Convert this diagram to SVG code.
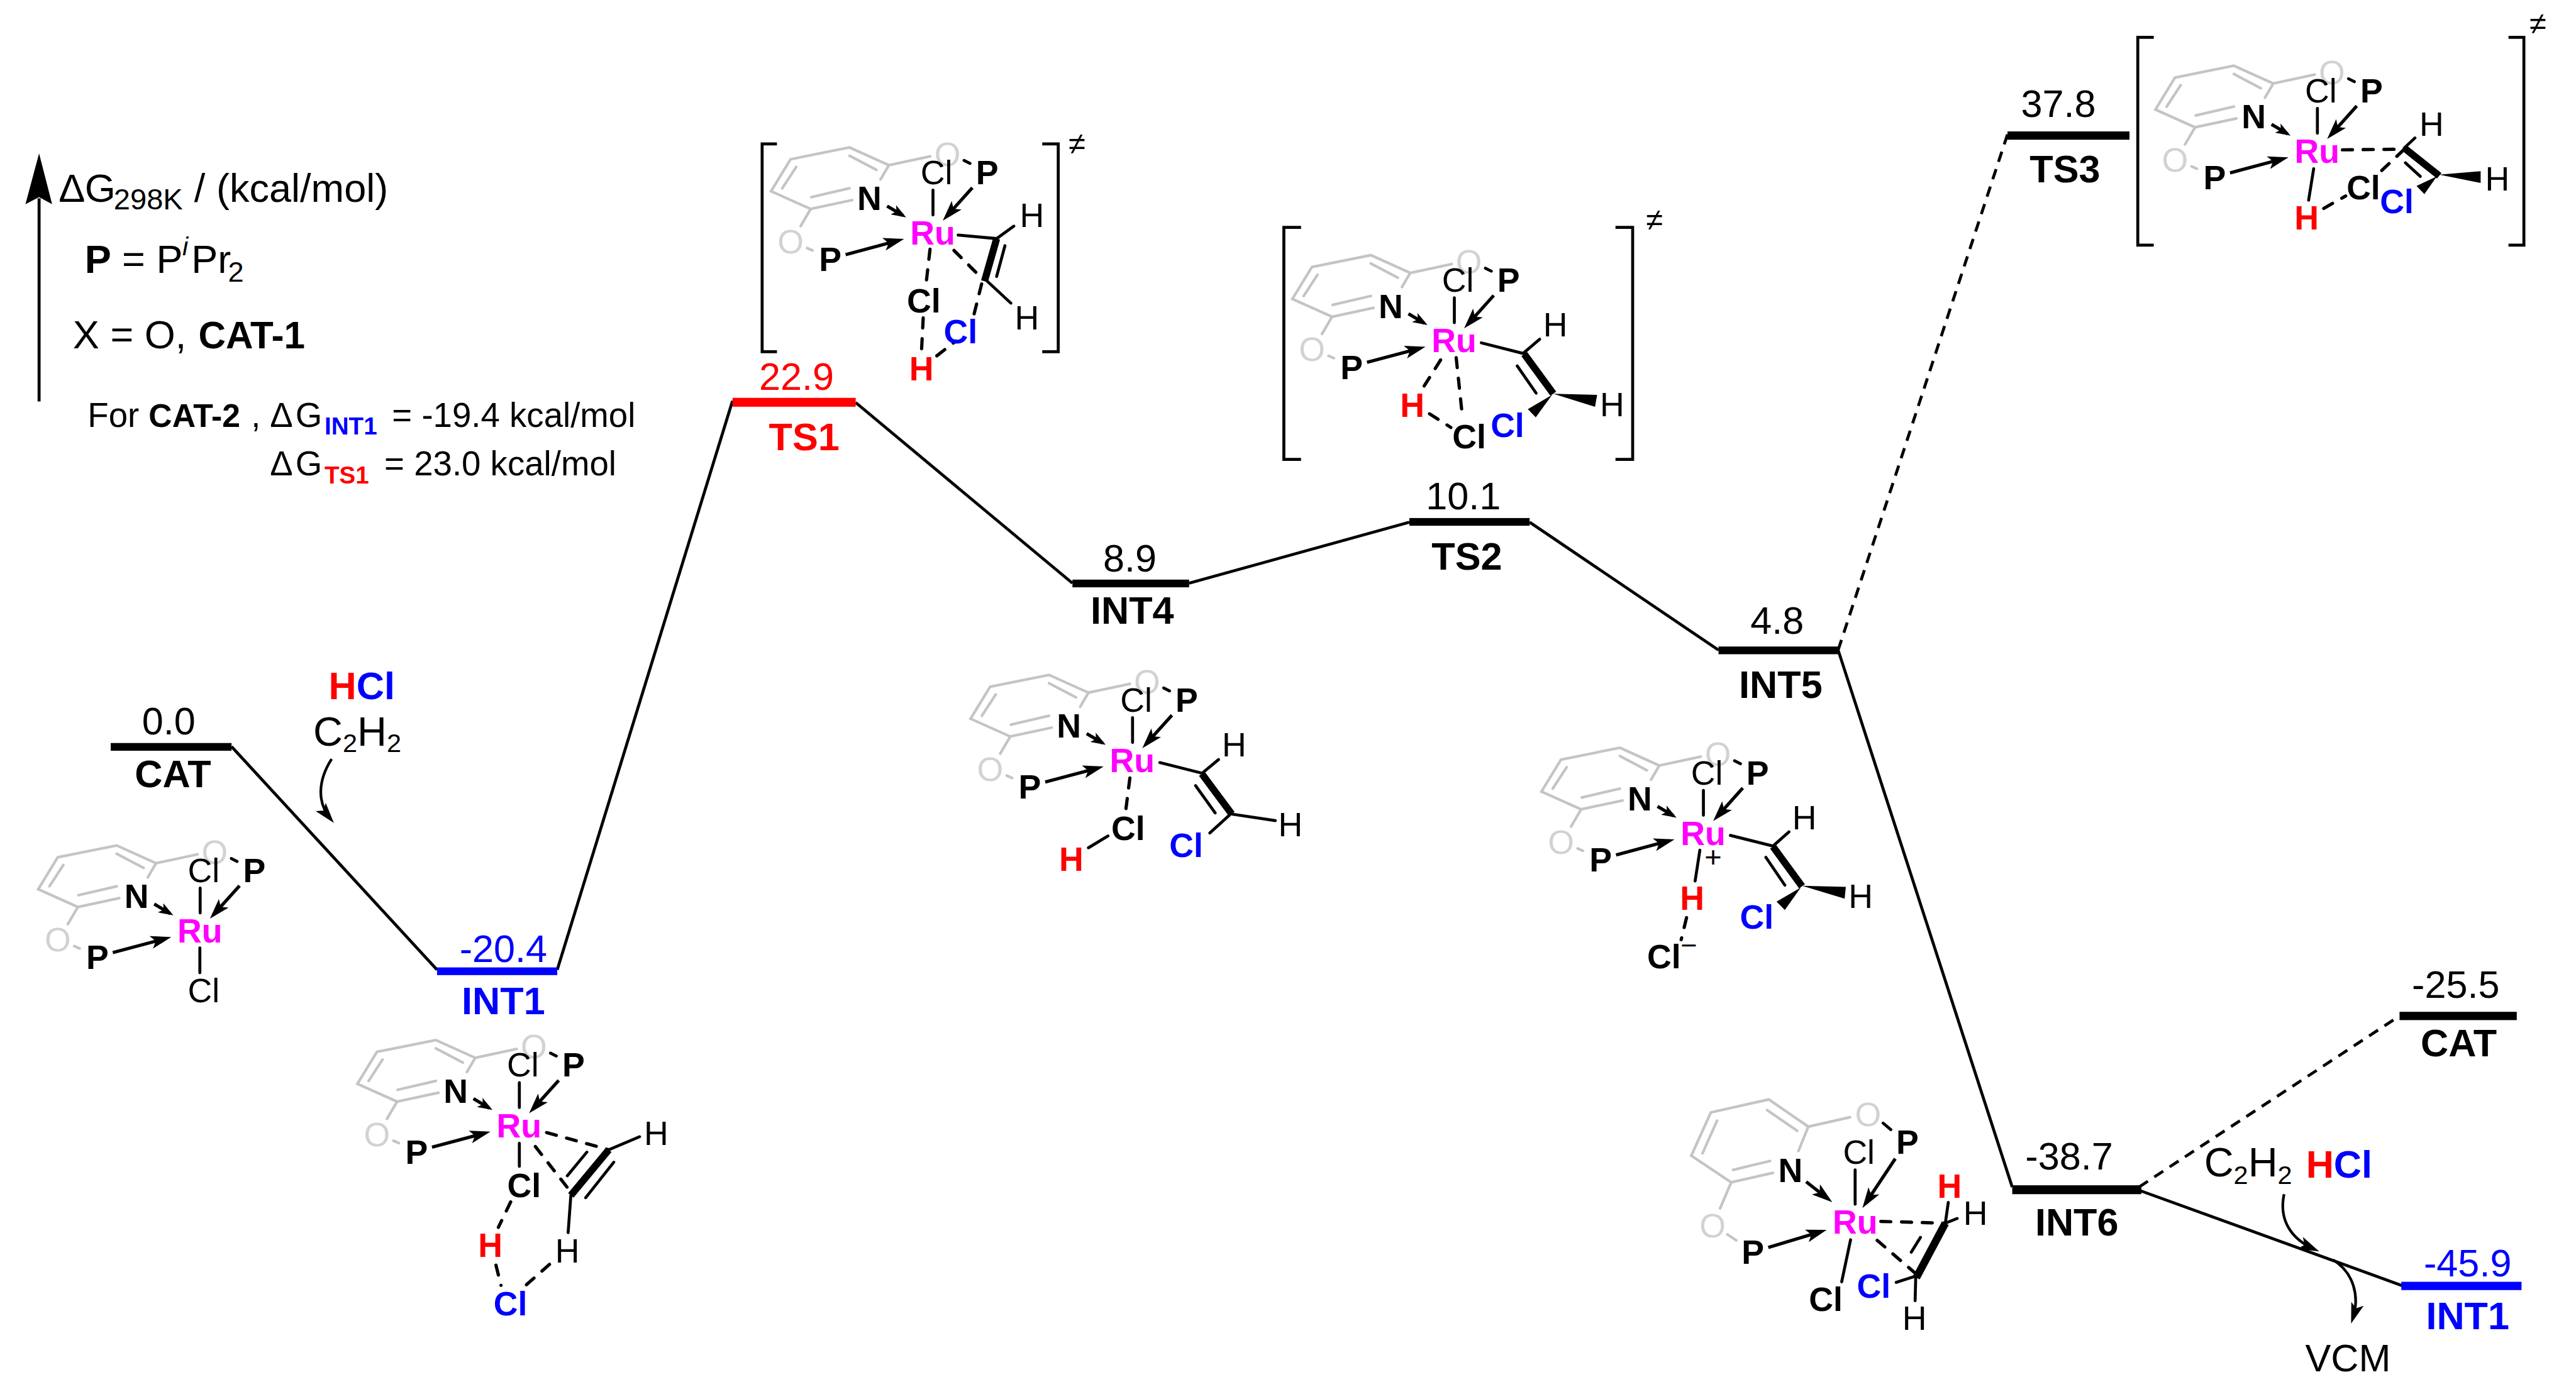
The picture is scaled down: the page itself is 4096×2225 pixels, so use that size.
<svg xmlns="http://www.w3.org/2000/svg" width="4096" height="2225" viewBox="0 0 4096 2225">
<style>
text{font-family:"Liberation Sans",Arial,sans-serif;fill:#000}
.a{font-size:57px;text-anchor:middle}
.b{font-weight:bold}
.o{fill:#d2d2d2}
.ru{fill:#f0f;font-weight:bold}
.red{fill:#f00}
.blue{fill:#00f}
.v{font-size:65px;text-anchor:middle}
.l{font-size:65px;font-weight:bold;text-anchor:middle}
.h{font-size:67px}
.s{font-size:58px}
.gr{fill:none;stroke:#c4c4c4;stroke-width:4.5;stroke-linecap:round;stroke-linejoin:miter}
.k{fill:none;stroke:#000;stroke-width:5;stroke-linecap:round}
.bd{fill:none;stroke:#000;stroke-width:12;stroke-linecap:butt}
.d{fill:none;stroke:#000;stroke-width:5.5;stroke-linecap:round;stroke-dasharray:17 18}
.c{fill:none;stroke:#000;stroke-width:5}
.cd{fill:none;stroke:#000;stroke-width:5;stroke-dasharray:18 13}
.br{fill:none;stroke:#000;stroke-width:5}
.ar{fill:none;stroke:#000;stroke-width:5.5;marker-end:url(#ah)}
.ar2{fill:none;stroke:#000;stroke-width:5.5;marker-end:url(#ah2)}
.cv{fill:none;stroke:#000;stroke-width:4.5;marker-end:url(#ah)}
</style>
<defs>
<marker id="ah" markerUnits="userSpaceOnUse" markerWidth="36" markerHeight="26" viewBox="0 0 36 26" refX="26" refY="13" orient="auto"><path d="M35 13 L0 2 L8 13 L0 24Z" fill="#000"/></marker>
<marker id="ah2" markerUnits="userSpaceOnUse" markerWidth="26" markerHeight="22" viewBox="0 0 26 22" refX="19" refY="11" orient="auto"><path d="M25 11 L0 2 L6 11 L0 20Z" fill="#000"/></marker>
<g id="pyr">
<path class="gr" d="M1487 303L1501 279L1434.5 249L1335 269L1302 323L1369 353L1439 338"/>
<path class="gr" d="M1434.5 263L1480 287M1344.5 282L1321 318M1370 333L1434.5 318M1501 279L1571 264M1369 353L1352 382M1363 419L1372 423"/>
</g>
<g id="lig">
<path class="k" d="M1628 271L1638 276M1575.5 321V363"/>
<path class="ar" d="M1428 430L1518 406"/>
<path class="ar" d="M1642 317L1598 366"/>
<path class="ar2" d="M1498 348L1525 364"/>
</g>
</defs>
<rect width="4096" height="2225" fill="#fff"/>
<g transform="scale(0.94161)">

<g id="legend">
<path class="c" d="M66 335V678"/>
<polygon points="66,259 88,345 66,333 43,345"/>
<text class="h" x="99" y="341">Δ<tspan x="143">G</tspan><tspan x="192" y="354" font-size="50">298K</tspan><tspan x="328" y="341">/ (kcal/mol)</tspan></text>
<text class="h" x="143" y="461"><tspan class="b">P</tspan><tspan x="206">=</tspan><tspan x="264">P</tspan><tspan x="308" y="431" font-size="44" font-style="italic">i</tspan><tspan x="323" y="461">Pr</tspan><tspan x="385" y="476" font-size="48">2</tspan></text>
<text class="h" x="123" y="588">X = O,<tspan class="b" x="335" font-size="64">CAT-1</tspan></text>
<text class="s" x="148" y="721">For<tspan class="b" x="251" font-size="55">CAT-2</tspan><tspan x="424">,</tspan><tspan x="456">Δ</tspan><tspan x="499">G</tspan><tspan class="b blue" x="548" y="734" font-size="41">INT1</tspan><tspan x="662" y="721">= -19.4 kcal/mol</tspan></text>
<text class="s" x="456" y="803">Δ<tspan x="499">G</tspan><tspan class="b red" x="548" y="817" font-size="41">TS1</tspan><tspan x="649" y="803">= 23.0 kcal/mol</tspan></text>
</g>

<g id="connectors">
<path class="c" d="M391 1261L738 1638"/>
<path class="c" d="M941 1638L1237 677"/>
<path class="c" d="M1445 680L1811 985"/>
<path class="c" d="M2008 985L2380 882"/>
<path class="c" d="M2583 882L2902 1098"/>
<path class="cd" d="M3104 1098L3390 227"/>
<path class="c" d="M3104 1098L3398 2005"/>
<path class="cd" d="M3612 2005L4052 1716"/>
<path class="c" d="M3611 2010L4058 2172"/>
<path class="cv" d="M560 1282C537 1318 535 1355 558 1383"/>
<path class="cv" d="M3857 2017C3848 2060 3868 2092 3908 2110"/>
<path class="cv" d="M3940 2128C3975 2150 3985 2190 3973 2227"/>
</g>

<g id="level-cat"><rect x="187" y="1255" width="204" height="13"/><text class="v" x="285" y="1240">0.0</text><text class="l" x="292" y="1330">CAT</text></g>
<g id="level-int1"><rect x="738" y="1634" width="203" height="13" fill="#00f"/><text class="v blue" x="850" y="1625">-20.4</text><text class="l blue" x="850" y="1713">INT1</text></g>
<g id="level-ts1"><rect x="1237" y="672" width="208" height="15" fill="#f00"/><text class="v red" x="1345" y="658">22.9</text><text class="l red" x="1358" y="760">TS1</text></g>
<g id="level-int4"><rect x="1811" y="979" width="197" height="13"/><text class="v" x="1908" y="965">8.9</text><text class="l" x="1912" y="1054">INT4</text></g>
<g id="level-ts2"><rect x="2380" y="875" width="203" height="13"/><text class="v" x="2471" y="860">10.1</text><text class="l" x="2477" y="962">TS2</text></g>
<g id="level-int5"><rect x="2902" y="1092" width="202" height="13"/><text class="v" x="3001" y="1071">4.8</text><text class="l" x="3007" y="1179">INT5</text></g>
<g id="level-ts3"><rect x="3390" y="222" width="206" height="14"/><text class="v" x="3476" y="198">37.8</text><text class="l" x="3487" y="308">TS3</text></g>
<g id="level-int6"><rect x="3398" y="2002" width="218" height="15"/><text class="v" x="3494" y="1975">-38.7</text><text class="l" x="3507" y="2087">INT6</text></g>
<g id="level-cat2"><rect x="4052" y="1709" width="198" height="14"/><text class="v" x="4147" y="1685">-25.5</text><text class="l" x="4152" y="1784">CAT</text></g>
<g id="level-int1b"><rect x="4055" y="2165" width="203" height="14" fill="#00f"/><text class="v blue" x="4167" y="2156">-45.9</text><text class="l blue" x="4167" y="2245">INT1</text></g>

<g id="reagents-1"><text x="555" y="1181" font-size="65" font-weight="bold"><tspan class="red">H</tspan><tspan class="blue">Cl</tspan></text>
<text x="529" y="1260" font-size="69">C<tspan y="1270" font-size="44">2</tspan><tspan y="1260">H</tspan><tspan y="1270" font-size="44">2</tspan></text></g>
<g id="reagents-2"><text x="3722" y="1987" font-size="69">C<tspan y="2000" font-size="44">2</tspan><tspan y="1987">H</tspan><tspan y="2000" font-size="44">2</tspan></text>
<text x="3894" y="1989" font-size="65" font-weight="bold"><tspan class="red">H</tspan><tspan class="blue">Cl</tspan></text></g>
<g id="product-vcm"><text class="v" x="3965" y="2316">VCM</text></g>

<!-- CAT -->
<g id="mol-cat">
<g transform="translate(-1237.5 1179)"><use href="#pyr"/><text class="a o" x="1600" y="280">O</text><text class="a o" x="1335" y="428">O</text><use href="#lig"/><text class="a" x="1581.5" y="311">Cl</text><text class="a b" x="1667" y="311">P</text><text class="a b" x="1468" y="355">N</text><text class="a ru" x="1575" y="413">Ru</text><text class="a b" x="1402" y="458">P</text></g>
<path class="k" d="M337.5 1601V1643"/>
<text class="a" x="344" y="1693">Cl</text>
</g>

<!-- INT1 -->
<g id="mol-int1">
<g transform="translate(-698.5 1507.7)"><use href="#pyr"/><text class="a o" x="1600" y="280">O</text><text class="a o" x="1335" y="428">O</text><use href="#lig"/><text class="a" x="1581.5" y="311">Cl</text><text class="a b" x="1667" y="311">P</text><text class="a b" x="1468" y="355">N</text><text class="a ru" x="1575" y="413">Ru</text><text class="a b" x="1402" y="458">P</text></g>
<path class="k" d="M877 1931V1970M964 2019L959.4 2082M1028 1942L1080 1920M991 1946L958 1986M1036.5 1963L989 2023"/>
<path class="bd" d="M1028 1942L964 2019"/>
<path class="d" d="M923 1913L1028 1942M904 1936.5L966 2016M862.4 2030L841.6 2073M837.5 2137L846 2171M889 2170L929 2134.6"/>
<text class="a b" x="885" y="2022">Cl</text>
<text class="a b red" x="828" y="2123">H</text>
<text class="a b blue" x="862" y="2222">Cl</text>
<text class="a" x="958" y="2132">H</text>
<text class="a" x="1108" y="1934">H</text>
</g>

<!-- TS1 -->
<g id="mol-ts1">
<g><use href="#pyr"/><text class="a o" x="1600" y="280">O</text><text class="a o" x="1335" y="428">O</text><use href="#lig"/><text class="a" x="1581.5" y="311">Cl</text><text class="a b" x="1667" y="311">P</text><text class="a b" x="1468" y="355">N</text><text class="a ru" x="1575" y="413">Ru</text><text class="a b" x="1402" y="458">P</text></g>
<path class="k" d="M1618 397L1683 403L1712 382M1697 415L1683 467M1665 473L1707 512"/>
<path class="bd" d="M1683 403L1662.5 475"/>
<path class="d" d="M1570.5 421L1564 478M1611 423L1660 472M1559 537L1556 595M1582 601L1614 576M1645 530L1660 470"/>
<text class="a b" x="1560" y="528">Cl</text>
<text class="a b red" x="1556" y="643">H</text>
<text class="a b blue" x="1622" y="580">Cl</text>
<text class="a" x="1742.5" y="383">H</text>
<text class="a" x="1734" y="557">H</text>
<path class="br" d="M1312 243H1287V594H1312M1760 243H1787V594H1760"/>
<text x="1819" y="260" font-size="52" text-anchor="middle">≠</text>
</g>

<!-- INT4 -->
<g id="mol-int4">
<g transform="translate(337 891)"><use href="#pyr"/><text class="a o" x="1600" y="280">O</text><text class="a o" x="1335" y="428">O</text><use href="#lig"/><text class="a" x="1581.5" y="311">Cl</text><text class="a b" x="1667" y="311">P</text><text class="a b" x="1468" y="355">N</text><text class="a ru" x="1575" y="413">Ru</text><text class="a b" x="1402" y="458">P</text></g>
<path class="k" d="M1958.5 1288L2030 1306L2057.6 1283M2019 1327L2052 1373M2080 1375L2153.6 1386M2076 1377L2043 1407M1871 1412L1838 1432"/>
<path class="bd" d="M2029.5 1307L2080 1375"/>
<path class="d" d="M1908 1314L1901 1369"/>
<text class="a" x="2084" y="1278">H</text>
<text class="a" x="2179" y="1412">H</text>
<text class="a b blue" x="2003" y="1447">Cl</text>
<text class="a b" x="1905" y="1419">Cl</text>
<text class="a b red" x="1809" y="1471">H</text>
</g>

<!-- TS2 -->
<g id="mol-ts2">
<g transform="translate(880.4 182)"><use href="#pyr"/><text class="a o" x="1600" y="280">O</text><text class="a o" x="1335" y="428">O</text><use href="#lig"/><text class="a" x="1581.5" y="311">Cl</text><text class="a b" x="1667" y="311">P</text><text class="a b" x="1468" y="355">N</text><text class="a ru" x="1575" y="413">Ru</text><text class="a b" x="1402" y="458">P</text></g>
<path class="k" d="M2501.4 579L2572 597L2600 573M2562 618L2594 664"/>
<path class="bd" d="M2574 598L2623 665"/>
<polygon points="2623,665 2697,667 2693.4,687"/>
<polygon points="2621,667 2580,691 2593.4,705"/>
<path class="d" d="M2432.7 608L2403 655M2414 699L2450 722M2459 604L2470 708"/>
<text class="a" x="2626.4" y="568">H</text>
<text class="a" x="2722.4" y="703">H</text>
<text class="a b blue" x="2545.6" y="738">Cl</text>
<text class="a b red" x="2385" y="704">H</text>
<text class="a b" x="2481" y="757">Cl</text>
<path class="br" d="M2197 384H2168V776H2197M2728 384H2757V776H2728"/>
<text x="2794" y="389" font-size="52" text-anchor="middle">≠</text>
</g>

<!-- INT5 -->
<g id="mol-int5">
<g transform="translate(1301 1014)"><use href="#pyr"/><text class="a o" x="1600" y="280">O</text><text class="a o" x="1335" y="428">O</text><use href="#lig"/><text class="a" x="1581.5" y="311">Cl</text><text class="a b" x="1667" y="311">P</text><text class="a b" x="1468" y="355">N</text><text class="a ru" x="1575" y="413">Ru</text><text class="a b" x="1402" y="458">P</text></g>
<path class="k" d="M2922 1411L2994 1429L3021 1405M2982 1448L3014 1495M2870.5 1436L2862.5 1488"/>
<path class="bd" d="M2994 1430L3043 1497"/>
<polygon points="3043,1496 3117,1498 3115,1518"/>
<polygon points="3041,1499 3000,1523 3014,1537"/>
<path class="d" d="M2848 1550L2839 1587"/>
<text class="a" x="3047" y="1401">H</text>
<text class="a" x="3142" y="1534">H</text>
<text class="a b blue" x="2966.5" y="1569">Cl</text>
<text class="a b red" x="2857.6" y="1537">H</text>
<text class="a b" x="2810" y="1636">Cl</text>
<text x="2893" y="1464" font-size="50" text-anchor="middle">+</text>
<text x="2852" y="1613" font-size="48" text-anchor="middle">−</text>
</g>

<!-- TS3 -->
<g id="mol-ts3">
<g transform="translate(2337.8 -138)"><use href="#pyr"/><text class="a o" x="1600" y="280">O</text><text class="a o" x="1335" y="428">O</text><use href="#lig"/><text class="a" x="1581.5" y="311">Cl</text><text class="a b" x="1667" y="311">P</text><text class="a b" x="1468" y="355">N</text><text class="a ru" x="1575" y="413">Ru</text><text class="a b" x="1402" y="458">P</text></g>
<path class="k" d="M4060 250L4078 233M4062 275L4087 298M3907 285L3898.5 338"/>
<path class="bd" d="M4060 250L4119 297"/>
<polygon points="4119,295 4189,289 4189,309"/>
<polygon points="4115,298 4080.6,314 4094,328"/>
<path class="d" d="M3955.6 253L4060 252M4022 288L4060 252M3924 352L3961 331"/>
<text class="a" x="4106" y="229">H</text>
<text class="a" x="4217" y="322">H</text>
<text class="a b" x="3991" y="337">Cl</text>
<text class="a b blue" x="4047.5" y="360">Cl</text>
<text class="a b red" x="3895" y="388">H</text>
<path class="br" d="M3637 63H3610V414H3637M4236 63H4262V414H4236"/>
<text x="4286" y="57" font-size="52" text-anchor="middle">≠</text>
</g>

<!-- INT6 -->
<g id="mol-int6">
<path class="gr" d="M3037 1944L3053.6 1903L2987 1857L2889 1879L2856 1952L2923.5 1997L2994 1981"/>
<path class="gr" d="M2984 1875L3035 1910M2899.5 1893L2875 1948M2926.5 1976L2989 1961M3053.6 1903L3124 1887M2923.5 1997L2904.6 2041M2917 2085L2932 2095"/>
<text class="a o" x="3154.6" y="1902">O</text>
<text class="a o" x="2892" y="2090">O</text>
<path class="k" d="M3180 1897L3193 1908M3132.7 1976V2034M3125 2094L3110 2165M3290 2031L3285 2066L3305 2058M3243 2090L3227.5 2115M3236 2155L3202 2166M3235 2158L3234 2197"/>
<path class="ar" d="M2986 2107L3076 2080"/>
<path class="ar" d="M3200.5 1957L3150 2033"/>
<path class="ar" d="M3050 1996L3087 2025"/>
<path class="bd" d="M3285 2066L3236 2158" style="stroke-width:13"/>
<path class="d" d="M3176 2063L3285 2066M3170 2095L3236 2152"/>
<text class="a" x="3139" y="1966">Cl</text>
<text class="a b" x="3221" y="1949">P</text>
<text class="a b" x="3023.5" y="1997">N</text>
<text class="a ru" x="3132.7" y="2084">Ru</text>
<text class="a b" x="2960" y="2135">P</text>
<text class="a b" x="3083" y="2214">Cl</text>
<text class="a b red" x="3292" y="2023">H</text>
<text class="a" x="3336" y="2069">H</text>
<text class="a b blue" x="3164" y="2192">Cl</text>
<text class="a" x="3233" y="2246">H</text>
</g>

</g>
</svg>
